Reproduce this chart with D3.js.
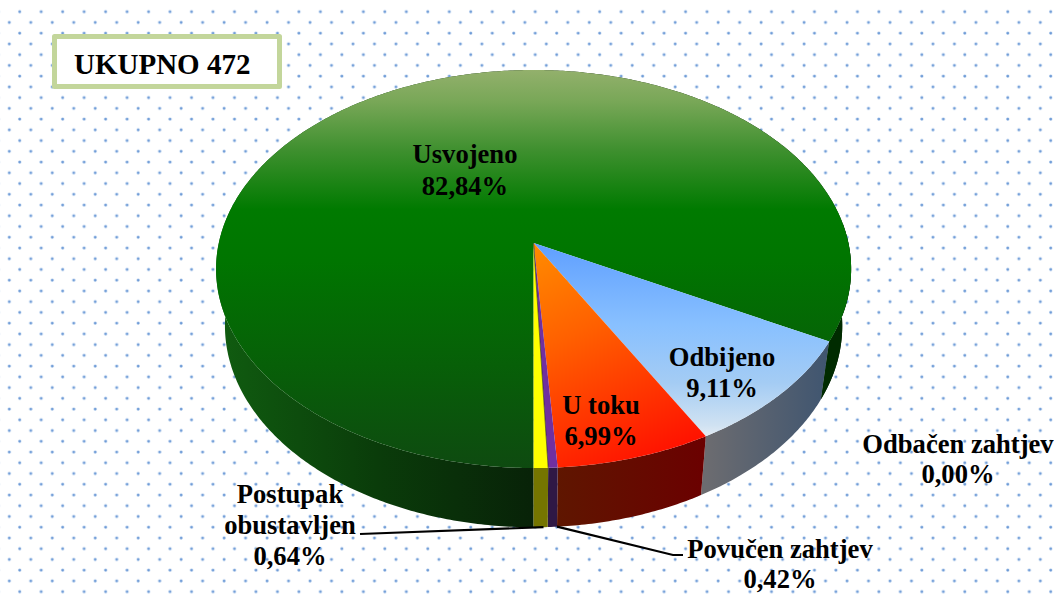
<!DOCTYPE html>
<html>
<head>
<meta charset="utf-8">
<script src="https://d3js.org/d3.v7.min.js"></script>
<style>
  html, body { margin: 0; padding: 0; background: #fff; overflow: hidden; }
  svg text { font-family: "Liberation Serif", serif; font-weight: bold; fill: #000; }
</style>
</head>
<body>
<svg id="chart" width="1054" height="594"></svg>
<script>
// Chart data
var categories = ["Usvojeno", "Odbijeno", "U toku", "Odbačen zahtjev", "Povučen zahtjev", "Postupak obustavljen"];
var percents = [82.84, 9.11, 6.99, 0.00, 0.42, 0.64];
var totalLabel = "UKUPNO 472";

// Slice colours, same order as categories
var wallColors = [
  ["#105c10", "#0a3c0a", "#082208"],
  ["#6c6c70", "#3f5570"],
  ["#5f1600", "#6b0000"],
  ["#888888", "#888888"],
  ["#2f1845", "#2f1845"],
  ["#757500", "#757500"]
];

var svg = d3.select("#chart");
var defs = svg.append("defs");

// Dotted background
var dot = defs.append("radialGradient").attr("id", "dot");
dot.append("stop").attr("offset", "0%").attr("stop-color", "#5a8dd0");
dot.append("stop").attr("offset", "50%").attr("stop-color", "#7fa7dc");
dot.append("stop").attr("offset", "100%").attr("stop-color", "#e2ecf8");

var pattern = defs.append("pattern")
  .attr("id", "dots")
  .attr("patternUnits", "userSpaceOnUse")
  .attr("x", 9.3 - 5).attr("y", 11.7 - 5)
  .attr("width", 21.48).attr("height", 21.48);
pattern.append("circle").attr("cx", 5).attr("cy", 15.74).attr("r", 1.9).attr("fill", "url(#dot)").attr("transform", "translate(10.4,-10.74)");
pattern.append("circle").attr("cx", 5).attr("cy", 15.74).attr("r", 1.9).attr("fill", "url(#dot)");
svg.append("rect").attr("width", 1054).attr("height", 594).attr("fill", "#fff");
svg.append("rect").attr("y", 6).attr("width", 1054).attr("height", 588).attr("fill", "url(#dots)");

// Perspective disc: k is the foreshortening of the far side
var k = 0.1307;
var topX = d3.scaleLinear().domain([-1, 1]).range([533.6 - 314.8, 533.6 + 314.8]);
var topY = d3.scaleLinear().domain([-1, 1]).range([243 - 195.6, 243 + 195.6]);
var lowX = d3.scaleLinear().domain([-1, 1]).range([533.6 - 306, 533.6 + 306]);
var lowY = d3.scaleLinear().domain([-1, 1]).range([299.5 - 198, 299.5 + 198]);

function project(angle, scaleX, scaleY) {
  var s = Math.sin(angle), c = -Math.cos(angle);
  var w = 1 - k * c;
  return [scaleX(s / w), scaleY(c / w)];
}

// Angles start at the bottom of the pie, going clockwise
var pie = d3.pie().sort(null).value(function(d) { return d; })
  .startAngle(Math.PI).endAngle(3 * Math.PI);
var slices = pie(percents);
var line = d3.line();

function arcAngles(d) {
  var n = Math.max(2, Math.ceil((d.endAngle - d.startAngle) / 0.01));
  return d3.range(n + 1).map(function(i) {
    return d.startAngle + (d.endAngle - d.startAngle) * i / n;
  });
}

// Side walls first, the top face covers what is behind it
var walls = svg.append("g").attr("class", "walls");
slices.forEach(function(d, i) {
  if (d.value === 0) return;
  var angles = arcAngles(d);
  var colorStops = wallColors[i];
  var xs = angles.map(function(a) { return project(a, topX, topY)[0]; });
  var id = "wall" + i;
  var x0 = d3.min(xs), x1 = d3.max(xs);
  // the big green slice spans both sides of the pie, so it gets shaded by hand below
  var g = defs.append("linearGradient").attr("id", id).attr("gradientUnits", "userSpaceOnUse")
    .attr("x1", i === 0 ? 220 : x0).attr("x2", i === 0 ? 534 : x1).attr("y1", 0).attr("y2", 0);
  colorStops.forEach(function(c, j) {
    g.append("stop").attr("offset", j / (colorStops.length - 1)).attr("stop-color", c);
  });
  var pts = angles.map(function(a) { return project(a, topX, topY); })
    .concat(angles.slice().reverse().map(function(a) { return project(a, lowX, lowY); }));
  walls.append("path")
    .attr("d", line(pts) + "Z")
    .attr("fill", "url(#" + id + ")");
});
// right hand piece of the green wall is nearly black
var rightEnd = slices[0].endAngle - 2 * Math.PI;
var rightWall = d3.range(0, 0.6, 0.01).map(function(t) { return rightEnd - t; });
walls.append("path")
  .attr("d", line(rightWall.map(function(a) { return project(a, topX, topY); })
    .concat(rightWall.slice().reverse().map(function(a) { return project(a, lowX, lowY); }))) + "Z")
  .attr("fill", "#002b00");

// Top face gradients
function topGradient(id, x1, y1, x2, y2, stops) {
  var g = defs.append("linearGradient").attr("id", id).attr("gradientUnits", "userSpaceOnUse")
    .attr("x1", x1).attr("y1", y1).attr("x2", x2).attr("y2", y2);
  stops.forEach(function(s) {
    g.append("stop").attr("offset", s[0]).attr("stop-color", s[1]);
  });
}
topGradient("top0", 0, 70, 0, 468, [[0, "#93b06c"], [0.08, "#78a757"], [0.2, "#3f902f"], [0.35, "#007a00"], [0.48, "#007500"], [1, "#0e4a10"]]);
topGradient("top1", 0, 243, 0, 437, [[0, "#5f9fff"], [0.42, "#88c0ff"], [0.72, "#a4ccf4"], [0.94, "#d0e2f2"], [1, "#e4ecf4"]]);
topGradient("top2", 534, 243, 640, 470, [[0, "#ff8c00"], [0.4, "#ff6000"], [1, "#ff1000"]]);
topGradient("top3", 0, 0, 0, 1, [[0, "#888"], [1, "#888"]]);
topGradient("top4", 0, 0, 0, 1, [[0, "#7030a0"], [1, "#7030a0"]]);
topGradient("top5", 0, 0, 0, 1, [[0, "#ffff00"], [1, "#ffff00"]]);

svg.append("g").attr("class", "slices").selectAll("path")
  .data(slices.filter(function(d) { return d.value > 0; }))
  .enter().append("path")
  .attr("d", function(d) {
    var pts = arcAngles(d).map(function(a) { return project(a, topX, topY); });
    pts.unshift([topX(0), topY(0)]);
    return line(pts) + "Z";
  })
  .attr("fill", function(d) { return "url(#top" + d.index + ")"; });

// Thin dark edge between the yellow and purple slices
svg.append("path")
  .attr("d", line([[topX(0), topY(0)], project(slices[5].startAngle, topX, topY)]))
  .attr("stroke", "#1a1a1a").attr("stroke-width", 1).attr("stroke-opacity", 0.6);

// Leader lines for the two thin slices
var povucenEdge = project(slices[4].startAngle, lowX, lowY);
var postupakEdge = project(slices[5].startAngle + (slices[5].endAngle - slices[5].startAngle) * 0.3, lowX, lowY);
svg.append("path").attr("d", line([[360, 534], postupakEdge]))
  .attr("fill", "none").attr("stroke", "#000").attr("stroke-width", 2.2);
svg.append("path").attr("d", line([povucenEdge, [673, 555], [683, 555]]))
  .attr("fill", "none").attr("stroke", "#000").attr("stroke-width", 2.2);

// Labels
function pct(v) { return v.toFixed(2).replace(".", ",") + "%"; }

function label(cx, lines) {
  lines.forEach(function(l) {
    svg.append("text").attr("x", cx).attr("y", l[1])
      .attr("text-anchor", "middle").attr("font-size", 26.6).text(l[0]);
  });
}
label(465, [[categories[0], 163], [pct(percents[0]), 195]]);
label(722, [[categories[1], 366], [pct(percents[1]), 397]]);
label(601, [[categories[2], 414], [pct(percents[2]), 445]]);
label(958, [[categories[3], 453], [pct(percents[3]), 483]]);
label(780, [[categories[4], 558], [pct(percents[4]), 588]]);
label(290, [["Postupak", 503], ["obustavljen", 534], [pct(percents[5]), 565]]);

// Total box
svg.append("rect")
  .attr("x", 54.5).attr("y", 36.5).attr("width", 225).attr("height", 50)
  .attr("fill", "#fff").attr("stroke", "#c3d69b").attr("stroke-width", 5).attr("stroke-linejoin", "round");
svg.append("text").attr("x", 74).attr("y", 74).attr("font-size", 29).text(totalLabel);
</script>
</body>
</html>
